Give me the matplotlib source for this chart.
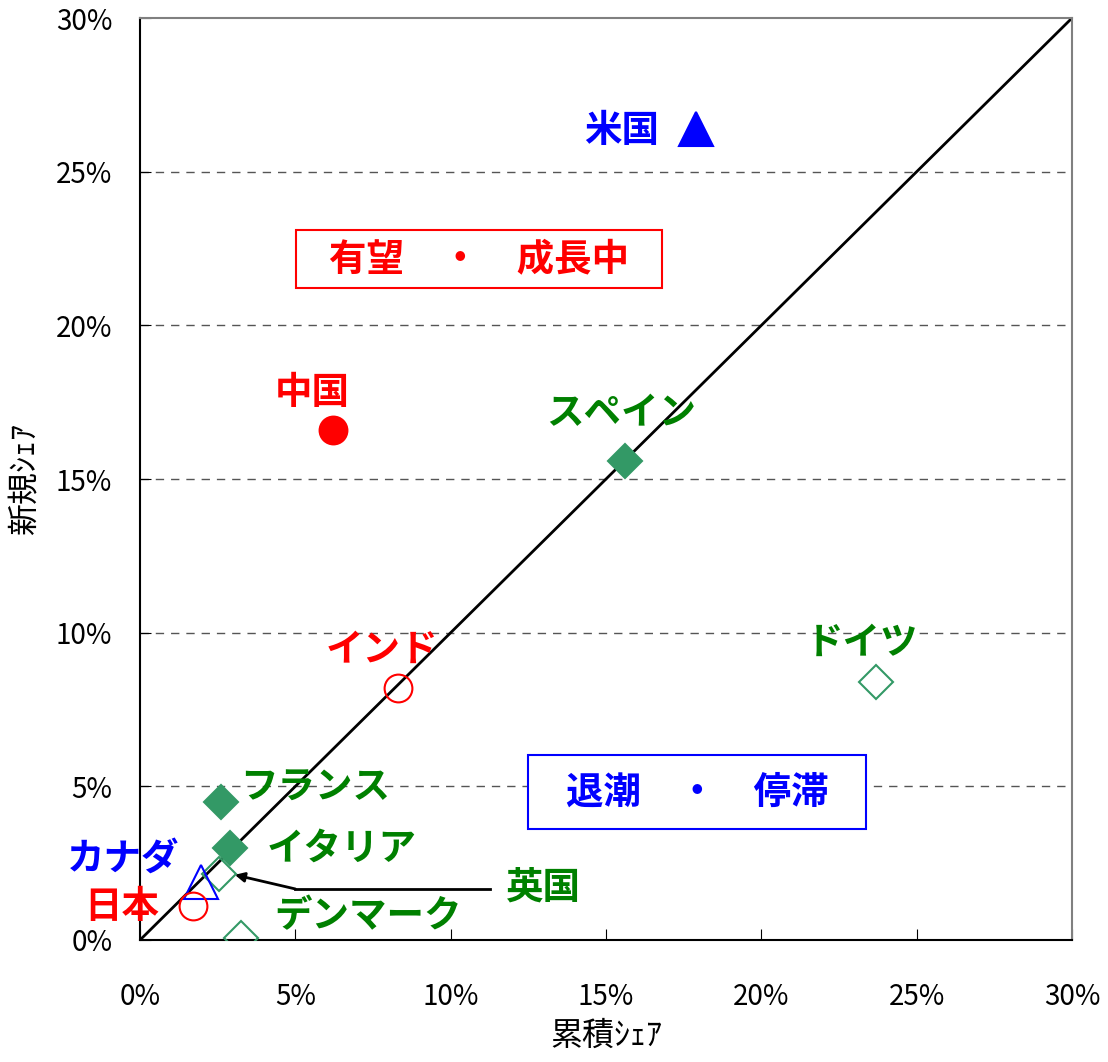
import matplotlib
matplotlib.use("Agg")
import matplotlib.pyplot as plt
from matplotlib.patches import Rectangle
from matplotlib.ticker import FuncFormatter

plt.rcParams['font.family'] = ['Noto Sans CJK JP', 'DejaVu Sans']

# 累積シェア(%), 新規シェア(%)
paises = ['米国', '中国', 'スペイン', 'ドイツ', 'インド', 'フランス', 'イタリア', '英国', 'カナダ', '日本', 'デンマーク']
acumulada = [17.9, 6.2, 15.6, 23.7, 8.3, 2.6, 2.9, 2.55, 1.95, 1.7, 3.25]
nueva = [26.4, 16.6, 15.6, 8.4, 8.2, 4.5, 3.0, 2.15, 1.9, 1.1, 0.05]

verde = '#008000'
verde_m = '#339966'
# marcador, color, relleno
estilos = {
    '米国': ('^', 'blue', True),
    '中国': ('o', 'red', True),
    'スペイン': ('D', verde_m, True),
    'ドイツ': ('D', verde_m, False),
    'インド': ('o', 'red', False),
    'フランス': ('D', verde_m, True),
    'イタリア': ('D', verde_m, True),
    '英国': ('D', verde_m, False),
    'カナダ': ('^', 'blue', False),
    '日本': ('o', 'red', False),
    'デンマーク': ('D', verde_m, False),
}
# posicion de etiquetas (en %) y color
etiquetas = {
    '米国': (15.5, 26.35, 'blue'),
    '中国': (5.55, 17.8, 'red'),
    'スペイン': (15.5, 17.15, verde),
    'ドイツ': (23.25, 9.7, verde),
    'インド': (7.8, 9.45, 'red'),
    'フランス': (5.65, 4.98, verde),
    'イタリア': (6.5, 3.0, verde),
    '英国': (13.0, 1.72, verde),
    'カナダ': (-0.55, 2.67, 'blue'),
    '日本': (-0.6, 1.1, 'red'),
    'デンマーク': (7.35, 0.78, verde),
}

fig = plt.figure(figsize=(11.08, 10.62), dpi=100)
ax = fig.add_axes([0.1264, 0.1149, 0.8411, 0.8681])

ax.plot([0, 30], [0, 30], color='black', lw=2, zorder=2)

for p, x, y in zip(paises, acumulada, nueva):
    m, c, lleno = estilos[p]
    ms = {'^': 24, 'o': 20, 'D': 17}[m]
    ax.plot(x, y, marker=m, ms=ms, color=c,
            markerfacecolor=c if lleno else 'none',
            markeredgewidth=1.5, linestyle='none', zorder=3)
    tx, ty, tc = etiquetas[p]
    ax.text(tx, ty, p, color=tc, fontsize=27, fontweight='bold',
            ha='center', va='center', zorder=4, clip_on=False)

# flecha del 英国
ax.plot([11.25, 5.0], [1.66, 1.66], color='black', lw=2, zorder=2)
ax.annotate('', xy=(3.05, 2.12), xytext=(5.0, 1.66),
            arrowprops=dict(arrowstyle='-|>', color='black', lw=2,
                            shrinkA=0, shrinkB=0, mutation_scale=14))

ax.add_patch(Rectangle((5.02, 21.22), 11.78, 1.88, fc='white', ec='red', lw=1.5, zorder=4))
ax.text(10.91, 22.16, '有望　・　成長中', color='red', fontsize=27, fontweight='bold',
        ha='center', va='center', zorder=5)
ax.add_patch(Rectangle((12.49, 3.61), 10.88, 2.41, fc='white', ec='blue', lw=1.5, zorder=4))
ax.text(17.93, 4.82, '退潮　・　停滞', color='blue', fontsize=27, fontweight='bold',
        ha='center', va='center', zorder=5)

ax.set_xlim(0, 30)
ax.set_ylim(0, 30)
ax.set_xticks(range(0, 31, 5))
ax.set_yticks(range(0, 31, 5))
fmt = FuncFormatter(lambda v, pos: f'{v:.0f}%')
ax.xaxis.set_major_formatter(fmt)
ax.yaxis.set_major_formatter(fmt)
ax.tick_params(direction='in', length=8, labelsize=20)
ax.tick_params(axis='y', pad=20)
ax.tick_params(axis='x', pad=30)
for yv in range(5, 30, 5):
    ax.axhline(yv, color='#555555', lw=1, linestyle=(0, (6, 5)), zorder=1)
for s in ['top', 'right']:
    ax.spines[s].set_color('#808080')
    ax.spines[s].set_linewidth(1.5)
for s in ['left', 'bottom']:
    ax.spines[s].set_linewidth(1.5)

ax.set_xlabel('累積ｼｪｱ', fontsize=23, labelpad=6)
ax.set_ylabel('新規ｼｪｱ', fontsize=23, labelpad=10)

fig.savefig('out.png', dpi=100)
